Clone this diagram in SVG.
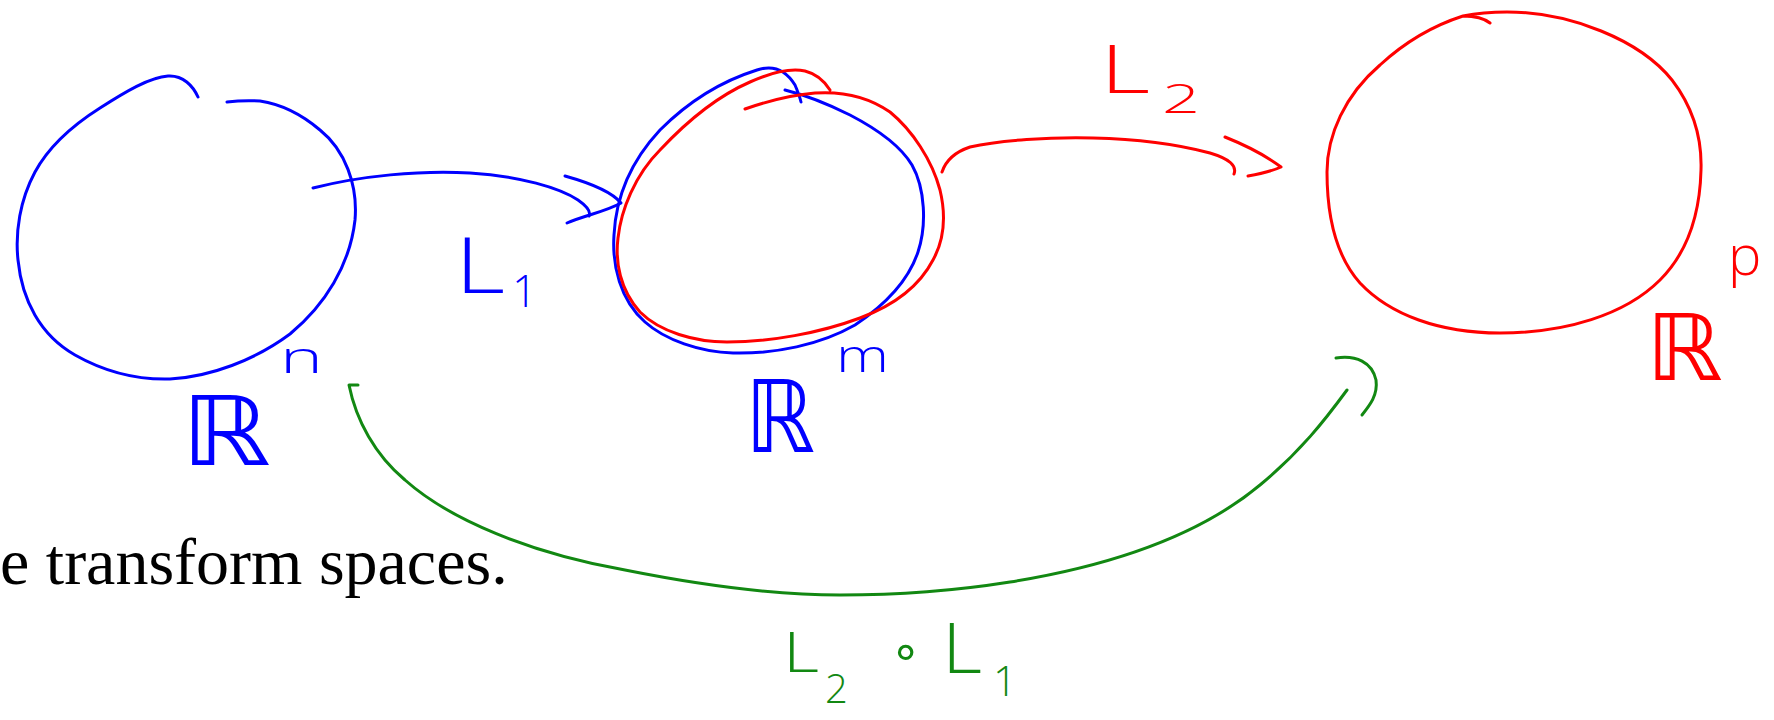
<svg xmlns="http://www.w3.org/2000/svg" width="1774" height="720" viewBox="0 0 1774 720">
<style>
.s{fill:none;stroke-width:3;stroke-linecap:round;stroke-linejoin:round}
.b{stroke:#0000ff}.r{stroke:#ff0000}.g{stroke:#128812}
.t{font-family:"Open Sans","DejaVu Sans",sans-serif;font-weight:300}
.rr{font-family:"DejaVu Sans",sans-serif;font-weight:normal}
.tb{fill:#0000ff}.tr{fill:#ff0000}.tg{fill:#128812}
.body{font-family:"Liberation Serif","DejaVu Serif",serif;fill:#000}
</style>
<rect width="1774" height="720" fill="#fff"/>
<g id="rn">
<path class="s b" d="M198,97 C193,86 183,75 168,76 C150,77 125,92 100,108 C70,127 48,148 35,172 C20,200 15,232 18,260 C22,300 40,335 75,355 C105,372 135,380 170,379 C210,377 255,360 290,334 C325,305 350,265 355,220 C358,185 345,150 320,130 C300,113 280,104 260,101 C245,100 235,101 227,102"/>
<text class="rr tb" x="181" y="465" font-size="96" textLength="90" lengthAdjust="spacingAndGlyphs">ℝ</text>
<text class="t tb" x="280" y="373" font-size="44" textLength="43" lengthAdjust="spacingAndGlyphs">n</text>
</g>
<g id="rm">
<path class="s b" d="M785,90 C805,95 830,105 850,115 C875,128 900,145 912,165 C925,188 927,225 918,252 C908,282 885,305 855,325 C820,345 775,354 733,353 C700,352 665,340 645,322 C620,300 612,265 614,235 C616,195 632,160 660,130 C690,100 725,80 757,70 C775,64 787,72 795,85 C798,92 800,98 801,102"/>
<path class="s r" d="M745,109 C765,102 790,95 815,93 C845,91 870,98 890,112 C912,130 932,160 940,190 C946,215 944,240 933,260 C920,285 895,305 860,318 C820,333 770,342 727,342 C695,342 660,332 640,312 C620,290 615,262 618,238 C621,210 635,175 660,150 C690,118 720,95 750,82 C770,73 790,68 805,71 C817,74 825,82 830,90"/>
<text class="rr tb" x="745" y="452" font-size="100" textLength="70" lengthAdjust="spacingAndGlyphs">ℝ</text>
<text class="t tb" x="836" y="372" font-size="46" textLength="53" lengthAdjust="spacingAndGlyphs">m</text>
</g>
<g id="rp">
<path class="s r" d="M1463,16 C1478,13 1495,12 1507,12 C1570,12 1640,40 1672,80 C1695,110 1702,140 1701,170 C1700,210 1690,250 1660,280 C1625,315 1565,333 1500,333 C1440,333 1390,315 1360,283 C1335,255 1327,215 1327,172 C1327,135 1345,95 1380,65 C1405,42 1435,25 1463,16 C1475,16 1485,19 1490,23"/>
<text class="rr tr" x="1646" y="380" font-size="92" textLength="77" lengthAdjust="spacingAndGlyphs">ℝ</text>
<text class="t tr" x="1728" y="275" font-size="56">p</text>
</g>
<g id="connectors">
<g id="L1">
<path class="s b" d="M313,188 C360,176 420,170 470,173 C520,176 560,188 578,200 C588,207 591,212 589,216"/>
<path class="s b" d="M565,176 C590,183 612,192 621,203 C605,212 585,215 567,223"/>
<text class="t tb" x="455" y="293" font-size="78" textLength="50" lengthAdjust="spacingAndGlyphs">L</text>
<text class="t tb" x="512" y="307" font-size="44">1</text>
</g>
<g id="L2">
<path class="s r" d="M942,172 C946,160 955,152 970,147 C1000,140 1050,137 1093,138 C1140,139 1180,145 1210,153 C1230,159 1237,166 1234,174"/>
<path class="s r" d="M1225,137 C1245,145 1265,155 1281,167 C1270,172 1260,174 1248,176"/>
<text class="t tr" x="1100" y="93" font-size="66" textLength="50" lengthAdjust="spacingAndGlyphs">L</text>
<text class="t tr" x="1162" y="113" font-size="40" textLength="38" lengthAdjust="spacingAndGlyphs">2</text>
</g>
<g id="L2oL1">
<path class="s g" d="M358,385 L349,385 C356,420 375,455 405,480 C450,520 530,553 625,570 C700,585 770,595 840,595 C900,595 960,590 1010,582 C1110,566 1200,535 1260,485 C1300,452 1325,420 1347,390"/>
<path class="s g" d="M1336,358 C1356,355 1372,362 1376,380 C1378,395 1370,405 1362,415"/>
<text class="t tg" x="783" y="672" font-size="55" textLength="36" lengthAdjust="spacingAndGlyphs">L</text>
<text class="t tg" x="825" y="703" font-size="40">2</text>
<text class="rr tg" x="890" y="668" font-size="50">∘</text>
<text class="t tg" x="942" y="673" font-size="70" textLength="40" lengthAdjust="spacingAndGlyphs">L</text>
<text class="t tg" x="993" y="696" font-size="42">1</text>
</g>
</g>
<text class="body" x="0" y="584" font-size="66">e transform spaces.</text>
</svg>
